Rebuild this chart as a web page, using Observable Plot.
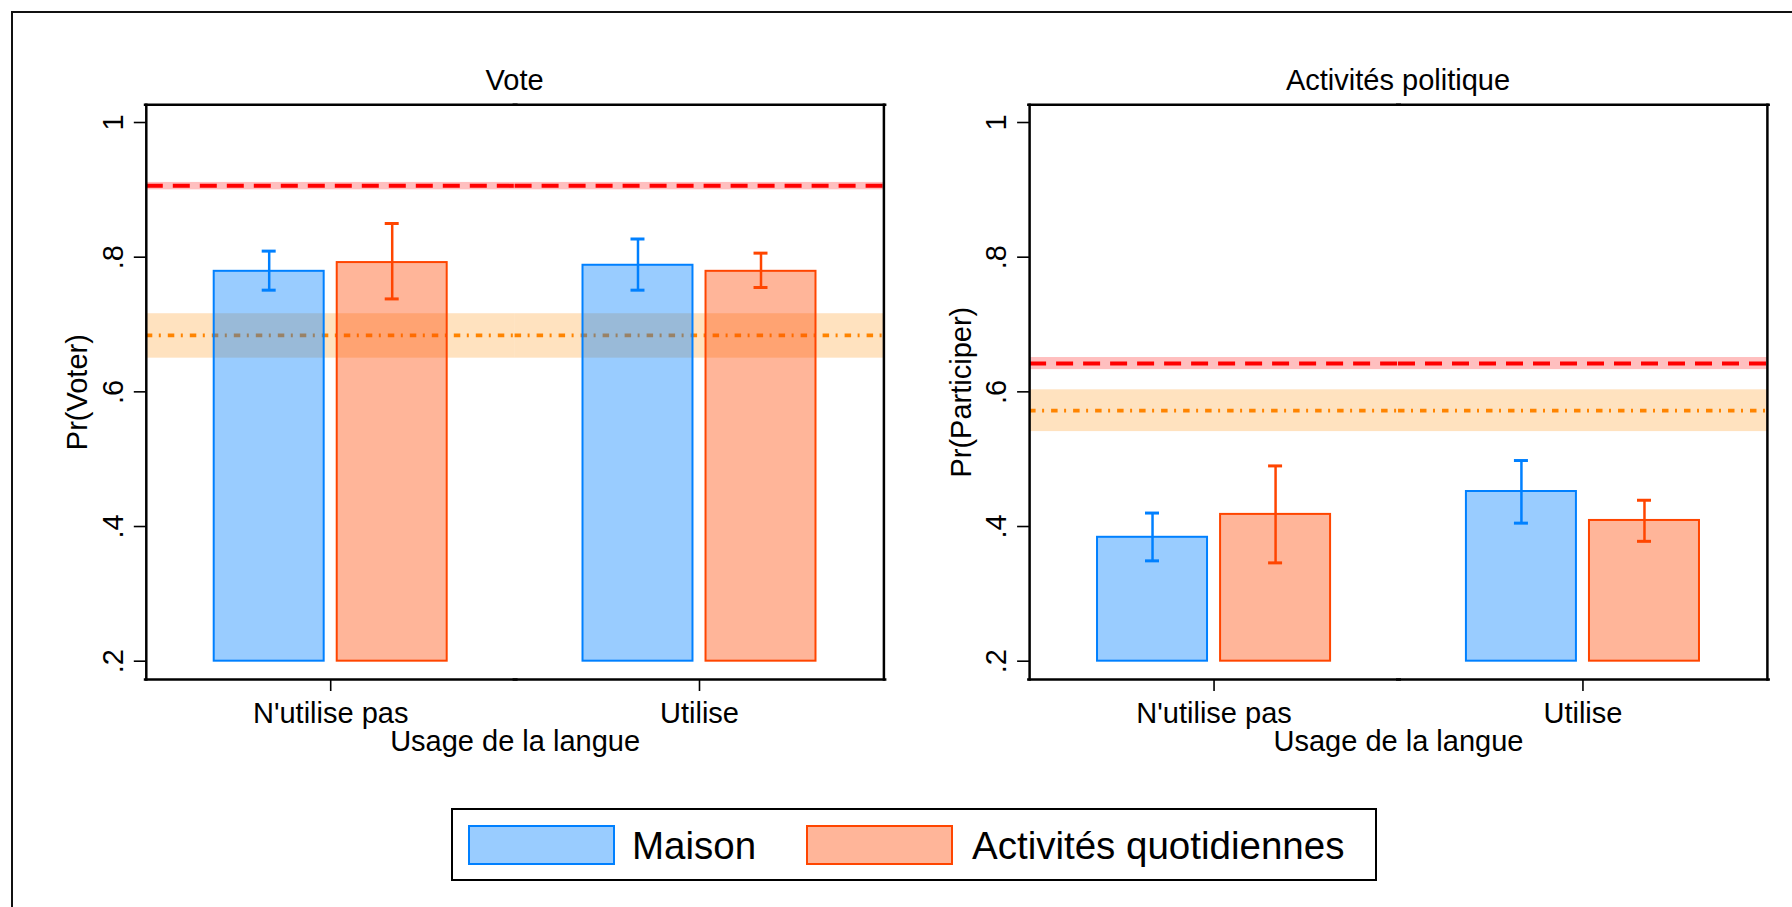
<!DOCTYPE html>
<html>
<head>
<meta charset="utf-8">
<script src="https://cdn.jsdelivr.net/npm/d3@7"></script>
<script src="https://cdn.jsdelivr.net/npm/@observablehq/plot@0.6"></script>
<style>
  body { margin: 0; background: #fff; }
  #root { position: relative; width: 1792px; height: 907px; overflow: hidden; background: #fff;
          font-family: "Liberation Sans", Arial, Helvetica, sans-serif; color: #000; }
  .outer { position: absolute; left: 10.5px; top: 11.3px; width: 2000px; height: 1000px;
           border-left: 2px solid #111; border-top: 2px solid #111; }
  .title { position: absolute; width: 600px; text-align: center; font-size: 29px; line-height: 29px; white-space: nowrap; }
  .legend { position: absolute; left: 451px; top: 808px; width: 926px; height: 73px; box-sizing: border-box;
            border: 2px solid #000; background: #fff; }
  .sw { position: absolute; top: 825px; width: 147px; height: 39.5px; box-sizing: border-box; border: 2.5px solid; }
  .lt { position: absolute; top: 827.4px; font-size: 38.5px; line-height: 38.5px; white-space: nowrap; }
</style>
</head>
<body>
<div id="root"><div class="outer"></div></div>
<script>
// ---- data ----
const groups = ["N'utilise pas", "Utilise"];
const seriesNames = ["Maison", "Activités quotidiennes"];
const seriesColors = ["#0080FF", "#FF4500"];
const yTicks = [0.2, 0.4, 0.6, 0.8, 1];
const barBase = 0.2;
const xLabel = "Usage de la langue";

// Panel 1 : Vote
const voteTitle = "Vote";
const voteYLabel = "Pr(Voter)";
const voteMaison = [0.779, 0.788];
const voteMaisonLo = [0.751, 0.751];
const voteMaisonHi = [0.809, 0.827];
const voteActiv = [0.792, 0.779];
const voteActivLo = [0.738, 0.755];
const voteActivHi = [0.850, 0.806];
const voteRedRef = [0.906, 0.900, 0.911];     // value, lo, hi
const voteOrangeRef = [0.684, 0.650, 0.716];

// Panel 2 : Activités politique
const partTitle = "Activités politique";
const partYLabel = "Pr(Participer)";
const partMaison = [0.384, 0.452];
const partMaisonLo = [0.349, 0.405];
const partMaisonHi = [0.420, 0.498];
const partActiv = [0.418, 0.409];
const partActivLo = [0.346, 0.378];
const partActivHi = [0.490, 0.439];
const partRedRef = [0.642, 0.633, 0.651];
const partOrangeRef = [0.572, 0.541, 0.603];

// ---- helpers ----
function buildRows(m, mLo, mHi, a, aLo, aHi) {
  const rows = [];
  groups.forEach((g, i) => {
    rows.push({group: g, series: seriesNames[0], value: m[i], lo: mLo[i], hi: mHi[i]});
    rows.push({group: g, series: seriesNames[1], value: a[i], lo: aLo[i], hi: aHi[i]});
  });
  return rows;
}
const ref = (r) => [{value: r[0], lo: r[1], hi: r[2]}];
const FONT = '"Liberation Sans", Arial, Helvetica, sans-serif';
const fmtY = (d) => d === 1 ? "1" : String(d).replace(/^0/, "");

function panel({title, ylabel, rows, red, orange, left, marginLeft, marginRight}) {
  const plot = Plot.plot({
    width: 896, height: 780,
    marginTop: 104.3, marginBottom: 101, marginLeft, marginRight,
    style: {background: "none", fontFamily: FONT, fontSize: "29px", color: "#000", overflow: "visible"},
    fx: {domain: groups, padding: 0, round: false},
    x: {domain: seriesNames, paddingInner: 0.106, paddingOuter: 0.552, round: false, axis: null},
    y: {domain: [0.1728, 1.0263]},
    color: {domain: seriesNames, range: seriesColors},
    marks: [
      Plot.rect(ref(red), {y1: "lo", y2: "hi", fill: "#FF0000", fillOpacity: 0.25}),
      Plot.rect(ref(orange), {y1: "lo", y2: "hi", fill: "#FF8A00", fillOpacity: 0.25}),
      Plot.ruleY(ref(red), {y: "value", stroke: "#FF0000", strokeWidth: 4, strokeDasharray: "17,10"}),
      Plot.ruleY(ref(orange), {y: "value", stroke: "#FF8400", strokeWidth: 3.8, strokeDasharray: "6.5,6.5,2,7"}),
      Plot.barY(rows, {fx: "group", x: "series", y1: barBase, y2: "value",
        fill: "series", fillOpacity: 0.4, stroke: "series", strokeWidth: 2}),
      Plot.ruleX(rows, {fx: "group", x: "series", y1: "lo", y2: "hi", stroke: "series", strokeWidth: 2.5}),
      Plot.tickY(rows, {fx: "group", x: "series", y: "lo", stroke: "series", strokeWidth: 3, insetLeft: 48, insetRight: 48}),
      Plot.tickY(rows, {fx: "group", x: "series", y: "hi", stroke: "series", strokeWidth: 3, insetLeft: 48, insetRight: 48}),
      Plot.frame({anchor: "top", stroke: "#000", strokeWidth: 2.5, insetLeft: -1.25, insetRight: -1.25}),
      Plot.frame({anchor: "bottom", stroke: "#000", strokeWidth: 2.5, insetLeft: -1.25, insetRight: -1.25}),
      Plot.frame({anchor: "left", facetAnchor: "left", stroke: "#000", strokeWidth: 2.5, strokeLinecap: "square"}),
      Plot.frame({anchor: "right", facetAnchor: "right", stroke: "#000", strokeWidth: 2.5, strokeLinecap: "square"}),
      Plot.axisY({anchor: "left", ticks: yTicks, tickFormat: fmtY, tickSize: 12, tickPadding: 11.8,
        tickRotate: -90, strokeWidth: 1.6, label: ylabel, labelAnchor: "center", labelArrow: false, labelOffset: 79.4}),
      Plot.axisFx({anchor: "bottom", tickSize: 12, tickPadding: 11, strokeWidth: 1.6,
        label: xLabel, labelAnchor: "center", labelArrow: false, labelOffset: 71.7})
    ]
  });
  plot.style.position = "absolute";
  plot.style.left = left + "px";
  plot.style.top = "0px";
  return plot;
}

const root = document.getElementById("root");
const p1 = panel({title: voteTitle, ylabel: voteYLabel,
  rows: buildRows(voteMaison, voteMaisonLo, voteMaisonHi, voteActiv, voteActivLo, voteActivHi),
  red: voteRedRef, orange: voteOrangeRef, left: 0, marginLeft: 145.8, marginRight: 12.6});
const p2 = panel({title: partTitle, ylabel: partYLabel,
  rows: buildRows(partMaison, partMaisonLo, partMaisonHi, partActiv, partActivLo, partActivHi),
  red: partRedRef, orange: partOrangeRef, left: 896, marginLeft: 133.1, marginRight: 25.1});
root.appendChild(p1);
root.appendChild(p2);

function addTitle(text, cx) {
  const d = document.createElement("div");
  d.className = "title";
  d.textContent = text;
  d.style.left = (cx - 300) + "px";
  d.style.top = "66.2px";
  root.appendChild(d);
}
addTitle(voteTitle, 514.6);
addTitle(partTitle, 1398);

// legend
const lg = document.createElement("div");
lg.className = "legend";
root.appendChild(lg);
const swLeft = [468, 806];
const txLeft = [632, 972];
seriesNames.forEach((s, i) => {
  const sw = document.createElement("div");
  sw.className = "sw";
  sw.style.left = swLeft[i] + "px";
  sw.style.borderColor = seriesColors[i];
  const c = d3.color(seriesColors[i]); c.opacity = 0.4;
  sw.style.background = c.formatRgb();
  root.appendChild(sw);
  const t = document.createElement("div");
  t.className = "lt";
  t.style.left = txLeft[i] + "px";
  t.textContent = s;
  root.appendChild(t);
});
</script>
</body>
</html>
